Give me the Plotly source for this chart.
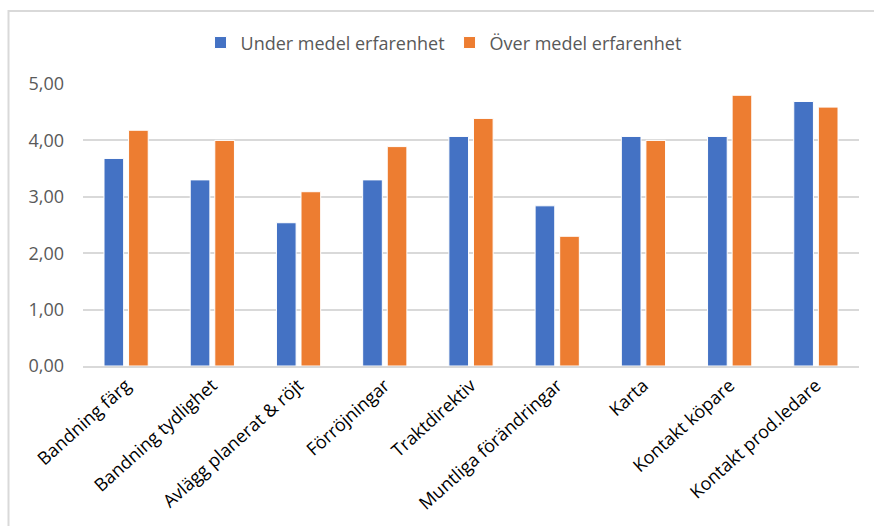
import plotly.graph_objects as go

categories = [
    "Bandning färg",
    "Bandning tydlighet",
    "Avlägg planerat & röjt",
    "Förröjningar",
    "Traktdirektiv",
    "Muntliga förändringar",
    "Karta",
    "Kontakt köpare",
    "Kontakt prod.ledare",
]
under_medel = [3.68, 3.30, 2.54, 3.30, 4.07, 2.84, 4.07, 4.07, 4.69]
over_medel = [4.18, 4.00, 3.09, 3.89, 4.39, 2.30, 4.00, 4.80, 4.59]
series_names = ["Under medel erfarenhet", "Över medel erfarenhet"]
y_ticks = [0, 1, 2, 3, 4, 5]

BLUE = "#4472C4"
ORANGE = "#ED7D31"
GRID = "#d9d9d9"
FONT = "Open Sans"

fig = go.Figure()
fig.add_trace(go.Bar(
    x=categories, y=under_medel, name=series_names[0],
    marker=dict(color=BLUE, line=dict(color="white", width=1)),
))
fig.add_trace(go.Bar(
    x=categories, y=over_medel, name=series_names[1],
    marker=dict(color=ORANGE, line=dict(color="white", width=1)),
))

# chart frame (top and left edges)
fig.add_shape(
    type="path", xref="paper", yref="paper",
    path="M -0.096 -1 L -0.096 1.2589 L 1.5 1.2589",
    line=dict(color=GRID, width=2),
)

fig.update_layout(
    width=874, height=526,
    margin=dict(l=83, r=15, t=84, b=160),
    paper_bgcolor="white", plot_bgcolor="white",
    barmode="group", bargap=0.43, bargroupgap=0.2,
    separators=", ",
    font=dict(family=FONT, color="#595959"),
    showlegend=True,
    legend=dict(
        orientation="h", x=0.4646, xanchor="center", y=1.146, yanchor="middle",
        font=dict(size=18, color="#595959"), bgcolor="rgba(0,0,0,0)",
        itemwidth=30,
    ),
    xaxis=dict(
        tickangle=-42, tickfont=dict(size=18, color="#000000"),
        showgrid=False, showline=True, linecolor=GRID, linewidth=2,
        ticks="",
    ),
    yaxis=dict(
        range=[0, 5], tickvals=y_ticks, tickformat=".2f",
        tickfont=dict(size=18, color="#595959"),
        showgrid=True, gridcolor=GRID, gridwidth=2,
        zeroline=False, showline=False, ticks="",
        ticklabelstandoff=18,
    ),
)

fig.write_html("out.html")
